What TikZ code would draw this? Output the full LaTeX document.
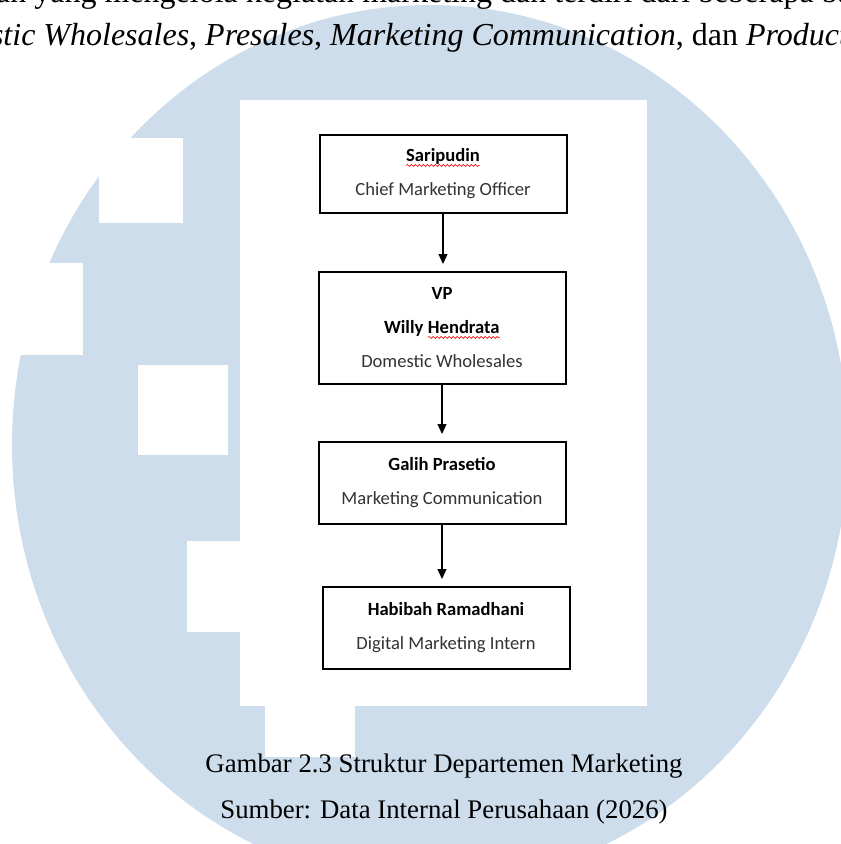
\documentclass[tikz,border=0pt]{standalone}
\usepackage{fontspec}
\setmainfont{Liberation Serif}
\newfontfamily\calibri{Carlito}
\usetikzlibrary{arrows.meta}
\usetikzlibrary{decorations.pathmorphing}
\usetikzlibrary{positioning}
\definecolor{markblue}{RGB}{205,221,236}
\tikzset{
  chart_box/.style = {
    draw, rectangle, line width = 2pt, inner sep = 0pt, align = center,
    minimum width = 247pt, text = black!80,
    font = \calibri\fontsize{18.6}{34}\selectfont }
}
\newcommand{\redwave}[1]{\tikz[baseline=(w.base)]{%
 \node[draw=none, inner sep=0pt, outer sep=0pt, minimum width=0pt, minimum height=0pt, text=black, anchor=base] (w) {#1};
 \draw[red, line width=0.6pt, decorate, decoration={snake, amplitude=1pt, segment length=4pt}]
  ([yshift=-3.5pt]w.base west) -- ([yshift=-3.5pt]w.base east);}}

\begin{document}
\begin{tikzpicture}[x=1pt,y=-1pt,
link_style/.style={line width=1.2pt, -{Triangle[width=9pt,length=10pt]}, shorten >=7pt},
page_text/.style={inner sep=0pt, anchor=base, font=\fontsize{26.8}{30}\selectfont},
body_text/.style={inner sep=0pt, anchor=base west, font=\fontsize{32}{36}\selectfont}]

\useasboundingbox (0,0) rectangle (841,844);
\fill[white] (0,0) rectangle (841,844);

\begin{scope}
\clip (0,0) rectangle (841,844);
\fill[markblue] (430,445) ellipse [x radius=418, y radius=440];
\foreach \xa/\ya/\xb/\yb in {99/138/183/223,-5/263/83/355,138/365/228/455,187/541/240/632,265/700/355/757}{
 \fill[white] (\xa,\ya) rectangle (\xb,\yb);
}
\fill[white] (240,100) rectangle (647,706);

\node[body_text] (line_a) at (-20,2)
 {dan yang mengelola kegiatan marketing dan terdiri dari beberapa bagian, yaitu};
\node[body_text] (line_b) at (-85.6,45)
 {\textit{Domestic Wholesales}, \textit{Presales}, \textit{Marketing Communication}, dan \textit{Product Management}};
\end{scope}

\node[chart_box, minimum height=78pt] (cmo) at (443,174)
 {\textbf{\textcolor{black}{\redwave{Saripudin}}}\\ Chief Marketing Officer};
\node[chart_box, minimum height=112pt] (vp) at (442,328)
 {\textbf{\textcolor{black}{VP}}\\ \textbf{\textcolor{black}{Willy \redwave{Hendrata}}}\\ Domestic Wholesales};
\node[chart_box, minimum height=82pt] (marcom) at (442,483)
 {\textbf{\textcolor{black}{Galih Prasetio}}\\ Marketing Communication};
\node[chart_box, minimum height=82pt] (intern) at (446,628)
 {\textbf{\textcolor{black}{Habibah Ramadhani}}\\ Digital Marketing Intern};

\foreach \a/\b in {cmo/vp,vp/marcom,marcom/intern}{
 \draw[link_style] (\a.south) -- (\a.south |- \b.north);
}

\node[page_text] (caption) at (444,772) {Gambar 2.3 Struktur Departemen Marketing};
\node[page_text] (source) at (444,818) {Sumber: Data Internal Perusahaan (2026)};
\end{tikzpicture}
\end{document}
